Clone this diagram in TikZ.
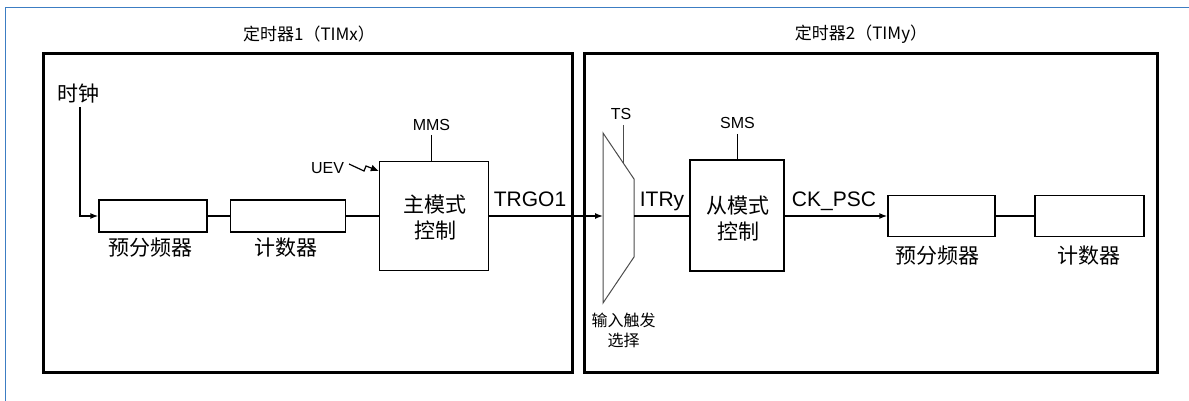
\documentclass[tikz,border=0pt]{standalone}
\usepackage{fontspec}
\setmainfont{Liberation Sans}
\newfontfamily\cjk{Noto Sans CJK SC}
\usetikzlibrary{arrows.meta}
\definecolor{edgeblue}{RGB}{60,125,195}

\begin{document}
\begin{tikzpicture}[x=1pt,y=-1pt,
    block/.style={draw,line width=1.4pt,inner sep=0pt},
    frame/.style={draw,line width=3pt},
    wire/.style={line width=1.4pt},
    arr/.style={wire,-{Latex[length=8pt,width=6pt]}},
    sig/.style={font=\fontsize{21}{25}\selectfont,anchor=base},
    reg/.style={font=\fontsize{16}{19}\selectfont,anchor=base},
    cjklbl/.style={font=\cjk\fontsize{21}{26}\selectfont,align=center},
    title/.style={font=\cjk\fontsize{17}{20}\selectfont}]
    \useasboundingbox (0,0) rectangle (1189,401);
    \draw[edgeblue,line width=1.5pt] (5.5,401) -- (5.5,7.5) -- (1189,7.5);

    % timer frames
    \draw[frame] (43,54) rectangle (572,372);
    \draw[frame] (584,54) rectangle (1157,372);
    \node[title] (t1) at (309,34) {定时器1（TIMx）};
    \node[title] (t2) at (861,34) {定时器2（TIMy）};

    % timer 1
    \node[cjklbl] (clk) at (78.5,93.5) {时钟};
    \coordinate (clktop) at (80,107);
    \node[block,minimum width=108pt,minimum height=32pt] (pre1) at (153,216) {};
    \node[block,minimum width=115pt,minimum height=32pt] (cnt1) at (288,216) {};
    \node[block,minimum width=109pt,minimum height=109pt] (mst) at (434,216) {};
    \node[cjklbl] (pre1l) at (150,247.5) {预分频器};
    \node[cjklbl] (cnt1l) at (286,247.5) {计数器};
    \node[cjklbl] (mstl) at (435,218) {主模式\\控制};
    \node[reg] (mms) at (431.5,131) {MMS};
    \coordinate (mmsbot) at (431.5,135);
    \node[reg] (uev) at (327.5,173) {UEV};
    \node[sig] (trgo) at (530,207) {TRGO1};

    \draw[arr] (clktop) |- (pre1.west);
    \draw[wire] (pre1) -- (cnt1);
    \draw[wire] (cnt1) -- (mst);
    \draw[wire] (mmsbot) -- (mst.north -| mmsbot);
    \draw[line width=1.2pt,-{Latex[length=8pt,width=7pt]}]
        (349,164) -- (364,171) -- (366,166) -- (mst.north west |- 0,171);

    % timer 2
    \coordinate (muxin) at (603,216);
    \coordinate (muxout) at (634,216);
    \draw[black!70,line width=1pt] (603,133) -- (634,179) -- (634,257) -- (603,303) -- cycle;
    \node[reg] (ts) at (621,120) {TS};
    \coordinate (tstop) at (623,125);
    \coordinate (tsbot) at (623,162.7);
    \node[font=\cjk\fontsize{16}{20}\selectfont,align=center] (muxl) at (623.5,330) {输入触发\\选择};
    \node[sig] (itr) at (662,206) {ITRy};
    \node[block,minimum width=94pt,minimum height=111pt] (slv) at (737,215.5) {};
    \node[cjklbl] (slvl) at (738,219) {从模式\\控制};
    \node[reg] (sms) at (737.5,129) {SMS};
    \coordinate (smsbot) at (737.5,134);
    \node[sig] (ckpsc) at (834,207) {CK\_PSC};
    \node[block,minimum width=107pt,minimum height=41pt] (pre2) at (941.5,216) {};
    \node[block,minimum width=109pt,minimum height=41pt] (cnt2) at (1089.5,216) {};
    \node[cjklbl] (pre2l) at (937,256) {预分频器};
    \node[cjklbl] (cnt2l) at (1088.5,256) {计数器};

    \draw[arr] (mst.east |- muxin) -- (muxin);
    \draw[black!70,line width=1pt] (tstop) -- (tsbot);
    \draw[wire] (muxout) -- (slv.west |- muxout);
    \draw[wire] (smsbot) -- (slv.north -| smsbot);
    \draw[arr] (slv.east |- pre2) -- (pre2.west);
    \draw[wire] (pre2) -- (cnt2);
\end{tikzpicture}
\end{document}
